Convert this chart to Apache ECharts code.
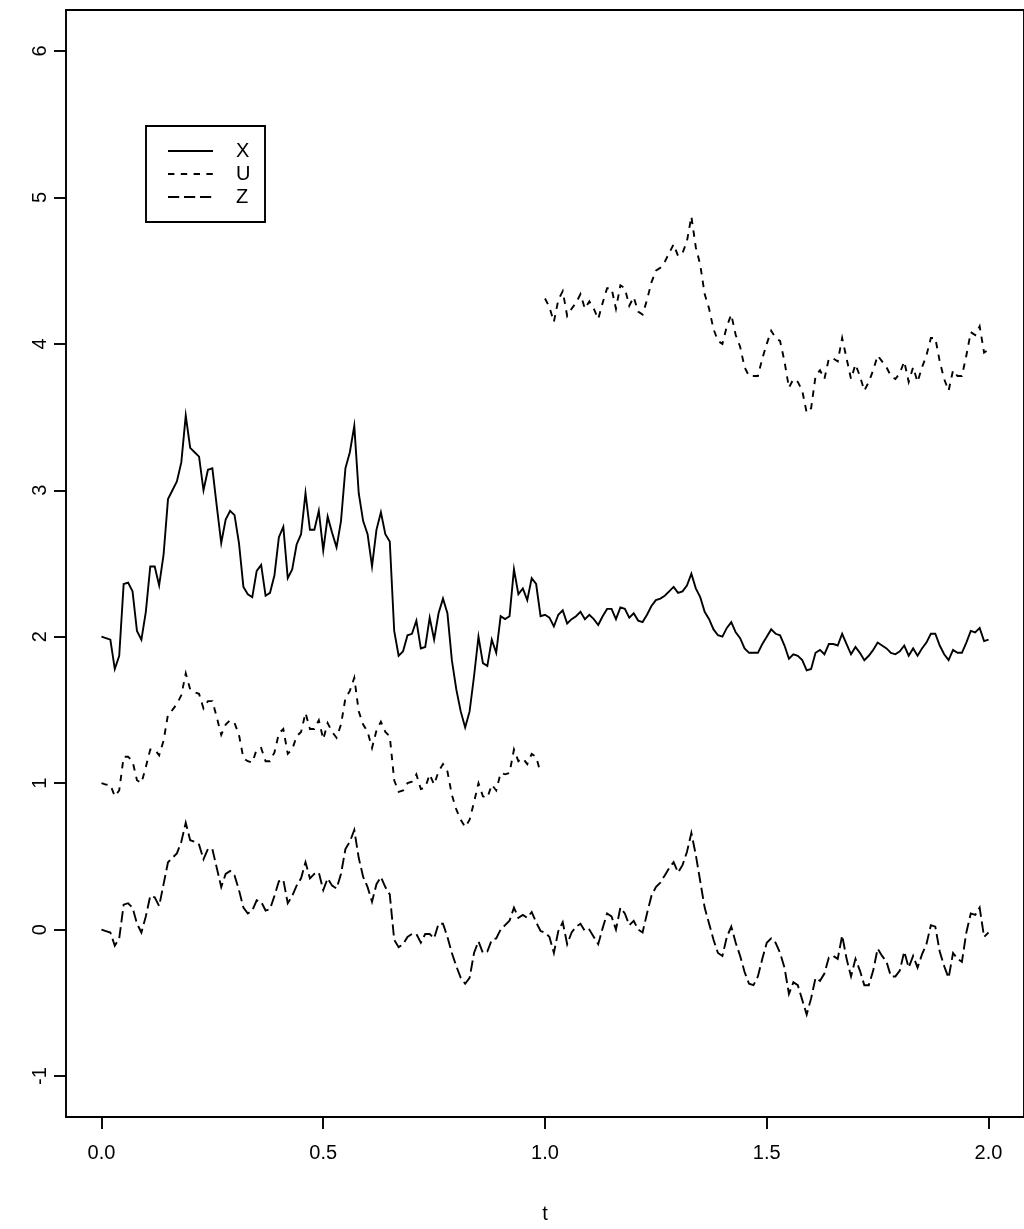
<!DOCTYPE html>
<html>
<head>
<meta charset="utf-8">
<title>X, U, Z</title>
<script src="https://cdn.jsdelivr.net/npm/echarts@6/dist/echarts.min.js"></script>
<style>
  html, body { margin: 0; padding: 0; background: #fff; }
  #chart { width: 1024px; height: 1229px; }
</style>
</head>
<body>
<div id="chart"></div>
<script>
// Sample spacing of the paths (t = 0, 0.01, ..., 2)
const tStep = 0.01;

// X on t = 0 .. 2
const xValues = [
  2.00,1.99,1.98,1.78,1.87,2.36,2.37,2.31,2.04,1.98,
  2.17,2.48,2.48,2.35,2.56,2.94,3.00,3.06,3.19,3.51,
  3.29,3.26,3.23,3.00,3.14,3.15,2.89,2.64,2.80,2.86,
  2.83,2.64,2.34,2.29,2.27,2.45,2.49,2.28,2.30,2.42,
  2.68,2.75,2.40,2.46,2.63,2.70,2.98,2.73,2.73,2.86,
  2.59,2.82,2.71,2.61,2.79,3.15,3.26,3.44,2.98,2.79,
  2.70,2.48,2.73,2.85,2.70,2.65,2.04,1.87,1.90,2.01,
  2.02,2.11,1.92,1.93,2.13,1.98,2.16,2.26,2.16,1.84,
  1.64,1.49,1.38,1.49,1.73,2.00,1.82,1.80,1.98,1.89,
  2.14,2.12,2.14,2.46,2.29,2.33,2.25,2.40,2.36,2.14,
  2.15,2.13,2.07,2.15,2.18,2.09,2.12,2.14,2.17,2.12,
  2.15,2.12,2.08,2.14,2.19,2.19,2.12,2.20,2.19,2.13,
  2.16,2.11,2.10,2.15,2.21,2.25,2.26,2.28,2.31,2.34,
  2.30,2.31,2.35,2.43,2.33,2.27,2.17,2.12,2.05,2.01,
  2.00,2.06,2.10,2.03,1.99,1.92,1.89,1.89,1.89,1.95,
  2.00,2.05,2.02,2.01,1.94,1.85,1.88,1.87,1.84,1.77,
  1.78,1.89,1.91,1.88,1.95,1.95,1.94,2.02,1.95,1.88,
  1.93,1.89,1.84,1.87,1.91,1.96,1.94,1.92,1.89,1.88,
  1.90,1.94,1.87,1.92,1.87,1.92,1.96,2.02,2.02,1.94,
  1.88,1.84,1.91,1.89,1.89,1.96,2.04,2.03,2.06,1.97,
  1.98
];

// U on t = 0 .. 0.99
const uFirst = [
  1.00,0.99,0.99,0.91,0.95,1.18,1.18,1.15,1.02,1.00,
  1.11,1.23,1.23,1.19,1.29,1.47,1.50,1.54,1.60,1.75,
  1.64,1.62,1.61,1.51,1.56,1.56,1.45,1.33,1.40,1.43,
  1.41,1.33,1.17,1.15,1.14,1.23,1.24,1.15,1.15,1.21,
  1.34,1.37,1.20,1.23,1.32,1.35,1.48,1.37,1.37,1.43,
  1.30,1.41,1.35,1.31,1.40,1.58,1.63,1.72,1.49,1.40,
  1.35,1.24,1.36,1.42,1.35,1.32,1.02,0.94,0.95,1.00,
  1.01,1.06,0.96,0.97,1.06,0.99,1.08,1.13,1.08,0.92,
  0.82,0.75,0.70,0.75,0.87,1.00,0.91,0.90,0.99,0.95,
  1.07,1.06,1.07,1.23,1.15,1.17,1.13,1.20,1.18,1.07
];

// U on t = 1.00 .. 2.00
const uSecond = [
  4.31,4.25,4.15,4.30,4.36,4.19,4.24,4.28,4.34,4.24,
  4.29,4.24,4.17,4.28,4.38,4.38,4.24,4.40,4.38,4.26,
  4.32,4.22,4.20,4.30,4.42,4.50,4.52,4.56,4.62,4.68,
  4.60,4.62,4.70,4.87,4.66,4.54,4.34,4.24,4.10,4.02,
  4.00,4.12,4.20,4.06,3.98,3.84,3.78,3.78,3.78,3.90,
  4.00,4.09,4.04,4.02,3.88,3.70,3.76,3.74,3.68,3.53,
  3.56,3.78,3.82,3.76,3.90,3.90,3.88,4.04,3.90,3.76,
  3.86,3.78,3.68,3.74,3.82,3.92,3.88,3.84,3.78,3.76,
  3.80,3.88,3.74,3.84,3.74,3.84,3.92,4.04,4.04,3.88,
  3.76,3.68,3.82,3.78,3.78,3.92,4.08,4.06,4.12,3.94,
  3.96
];

// Z on t = 0 .. 2
const zValues = [
  0.00,-0.01,-0.02,-0.11,-0.06,0.17,0.18,0.15,0.04,-0.02,
  0.09,0.23,0.22,0.16,0.31,0.46,0.49,0.52,0.60,0.73,
  0.61,0.60,0.58,0.48,0.55,0.55,0.42,0.29,0.38,0.40,
  0.37,0.27,0.15,0.11,0.13,0.20,0.19,0.13,0.14,0.23,
  0.33,0.34,0.18,0.23,0.30,0.35,0.46,0.35,0.38,0.39,
  0.27,0.35,0.30,0.28,0.38,0.55,0.60,0.68,0.49,0.36,
  0.29,0.19,0.31,0.36,0.29,0.24,-0.07,-0.12,-0.10,-0.05,
  -0.03,-0.03,-0.09,-0.03,-0.03,-0.06,0.04,0.04,-0.05,-0.16,
  -0.25,-0.33,-0.37,-0.33,-0.16,-0.08,-0.16,-0.15,-0.07,-0.06,
  0.00,0.03,0.06,0.15,0.08,0.10,0.08,0.12,0.05,-0.01,
  -0.02,-0.05,-0.16,-0.01,0.05,-0.10,-0.02,0.02,0.04,-0.01,
  0.00,-0.05,-0.10,0.01,0.11,0.09,0.00,0.15,0.11,0.03,
  0.06,0.00,-0.02,0.11,0.23,0.29,0.32,0.37,0.42,0.46,
  0.39,0.44,0.53,0.66,0.51,0.33,0.15,0.04,-0.07,-0.16,
  -0.18,-0.05,0.02,-0.09,-0.18,-0.29,-0.37,-0.38,-0.32,-0.20,
  -0.09,-0.06,-0.09,-0.16,-0.26,-0.44,-0.36,-0.38,-0.48,-0.58,
  -0.47,-0.33,-0.35,-0.30,-0.19,-0.18,-0.20,-0.04,-0.20,-0.32,
  -0.20,-0.28,-0.38,-0.38,-0.28,-0.13,-0.18,-0.22,-0.32,-0.32,
  -0.28,-0.15,-0.26,-0.18,-0.26,-0.17,-0.10,0.03,0.02,-0.15,
  -0.25,-0.33,-0.16,-0.20,-0.22,-0.02,0.11,0.10,0.15,-0.05,
  -0.02
];

// Axis tick positions and labels
const xTicks = [0, 0.5, 1, 1.5, 2];
const xTickLabels = ['0.0', '0.5', '1.0', '1.5', '2.0'];
const yTicks = [-1, 0, 1, 2, 3, 4, 5, 6];
const yTickLabels = ['-1', '0', '1', '2', '3', '4', '5', '6'];

// Legend entries
const legendNames = ['X', 'U', 'Z'];

// Pair each value with its time; startIndex counts steps from t = 0
function toPoints(values, startIndex) {
  return values.map((v, i) => [(startIndex + i) * tStep, v]);
}

const FONT = '"Liberation Sans", Arial, Helvetica, sans-serif';
const FS = 20;
const INK = '#000';
const LW = 1.9;
const DASH = { X: null, U: [6.4, 6.4], Z: [11.2, 4.8] };

const chart = echarts.init(document.getElementById('chart'), null, { renderer: 'canvas' });

const pathSeries = (name, data) => ({
  name: name,
  type: 'line',
  data: data,
  showSymbol: false,
  symbol: 'none',
  silent: true,
  animation: false,
  lineStyle: { color: INK, width: LW, type: DASH[name] || 'solid', cap: 'butt', join: 'miter' },
  itemStyle: { color: INK }
});

// Boxed key in the upper left of the plot
const legendBox = { left: 146, top: 126, width: 119, height: 96, rowTop: 151, rowGap: 23, lineX: 168, lineLen: 45, textX: 236 };
const legendGraphics = [{
  type: 'rect', silent: true,
  shape: { x: legendBox.left, y: legendBox.top, width: legendBox.width, height: legendBox.height },
  style: { fill: '#fff', stroke: INK, lineWidth: LW }
}];
legendNames.forEach((name, i) => {
  const y = legendBox.rowTop + i * legendBox.rowGap;
  legendGraphics.push({
    type: 'line', silent: true,
    shape: { x1: legendBox.lineX, y1: y, x2: legendBox.lineX + legendBox.lineLen, y2: y },
    style: { stroke: INK, lineWidth: LW, lineDash: DASH[name], lineCap: 'butt' }
  });
  legendGraphics.push({
    type: 'text', silent: true,
    x: legendBox.textX, y: y,
    style: { text: name, fill: INK, font: FS + 'px ' + FONT, textAlign: 'left', textVerticalAlign: 'middle' }
  });
});

chart.setOption({
  backgroundColor: '#fff',
  animation: false,
  grid: {
    left: 66, top: 10, width: 968, height: 1123,
    show: true, borderColor: INK, borderWidth: LW, backgroundColor: 'transparent',
    containLabel: false
  },
  xAxis: {
    type: 'value', min: -0.08, max: 2.08,
    name: 't', nameLocation: 'middle', nameGap: 87,
    nameTextStyle: { fontFamily: FONT, fontSize: FS, color: INK },
    axisLine: { show: false, onZero: false },
    splitLine: { show: false },
    axisTick: { show: true, inside: false, length: 12, customValues: xTicks,
      lineStyle: { color: INK, width: LW } },
    axisLabel: { customValues: xTicks, margin: 26, fontFamily: FONT, fontSize: FS, color: INK,
      formatter: v => xTickLabels[xTicks.indexOf(v)] }
  },
  yAxis: {
    type: 'value', min: -1.28, max: 6.28,
    axisLine: { show: false, onZero: false },
    splitLine: { show: false },
    axisTick: { show: true, inside: false, length: 12, customValues: yTicks,
      lineStyle: { color: INK, width: LW } },
    axisLabel: { customValues: yTicks, rotate: 90, margin: 16, fontFamily: FONT, fontSize: FS, color: INK,
      formatter: v => yTickLabels[yTicks.indexOf(v)] }
  },
  series: [
    pathSeries('X', toPoints(xValues, 0)),
    pathSeries('U', toPoints(uFirst, 0)),
    pathSeries('U', toPoints(uSecond, 100)),
    pathSeries('Z', toPoints(zValues, 0))
  ],
  graphic: legendGraphics
});
</script>
</body>
</html>
